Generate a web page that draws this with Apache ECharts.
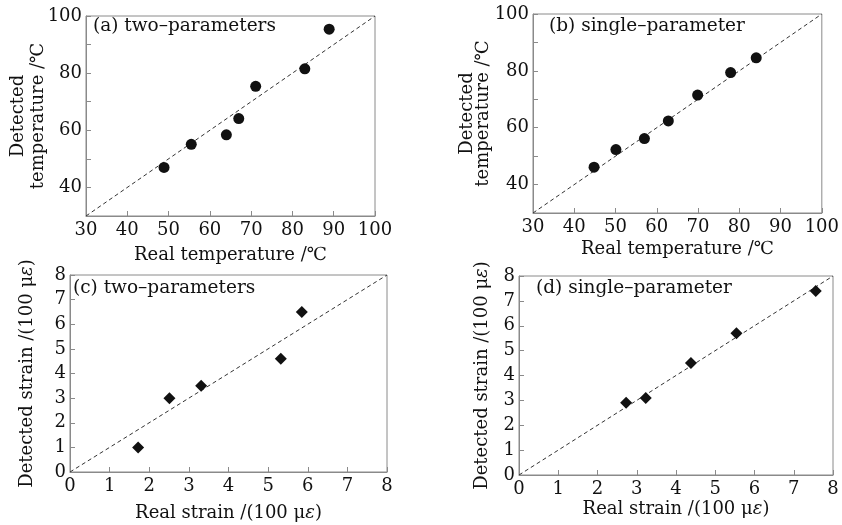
<!DOCTYPE html>
<html><head><meta charset="utf-8">
<script src="https://cdn.jsdelivr.net/npm/echarts@6/dist/echarts.min.js"></script>
<style>html,body{margin:0;padding:0;background:#fff}#c{width:842px;height:525px}</style>
</head><body><div id="c"></div>
<script>
// Panel (a) two-parameters, temperature
const tempTwoReal = [48.9, 55.5, 64.0, 67.0, 71.1, 83.0, 88.9];
const tempTwoDet  = [47.0, 55.1, 58.4, 64.1, 75.4, 81.5, 95.4];
// Panel (b) single-parameter, temperature
const tempOneReal = [44.8, 50.1, 57.0, 62.8, 69.9, 77.9, 84.1];
const tempOneDet  = [46.1, 52.3, 56.2, 62.4, 71.5, 79.4, 84.6];
// Panel (c) two-parameters, strain
const strainTwoReal = [1.72, 2.51, 3.31, 5.32, 5.85];
const strainTwoDet  = [1.0, 3.0, 3.5, 4.6, 6.5];
// Panel (d) single-parameter, strain
const strainOneReal = [2.73, 3.23, 4.38, 5.54, 7.56];
const strainOneDet  = [2.9, 3.1, 4.5, 5.7, 7.4];
// Axis ranges / labels
const tempRange = [30, 100];
const strainRange = [0, 8];
const panelLabels = ['(a) two\u2013parameters', '(b) single\u2013parameter', '(c) two\u2013parameters', '(d) single\u2013parameter'];
const xNameTemp = 'Real temperature /\u2103';
const yNameTemp = 'Detected\ntemperature /\u2103';

const FONT = '"DejaVu Serif", "Liberation Serif", serif';
const GRAY = '#8a8a8a';
const FS = 18;
const chart = echarts.init(document.getElementById('c'));

const grids = [
  {left: 86, top: 16, width: 289, height: 200},
  {left: 533, top: 14, width: 289, height: 199},
  {left: 70, top: 275, width: 317, height: 197},
  {left: 519, top: 276, width: 314, height: 199}
];
grids.forEach(g => { g.show = true; g.borderColor = GRAY; g.borderWidth = 1; g.backgroundColor = 'transparent'; });

const lblStyle = {color: '#111', fontFamily: FONT, fontSize: FS};
const rich = {
  a: {fontFamily: FONT, fontSize: FS, color: '#111'},
  i: {fontFamily: FONT, fontSize: FS, color: '#111', fontStyle: 'italic'}
};
function xAxis(i, range, interval, name, gap) {
  return {
    type: 'value', gridIndex: i, min: range[0], max: range[1], interval: interval,
    axisLine: {show: true, lineStyle: {color: GRAY, width: 1}},
    axisTick: {show: true, inside: true, length: 5, lineStyle: {color: GRAY}},
    splitLine: {show: false},
    axisLabel: Object.assign({margin: 5}, lblStyle),
    name: name, nameLocation: 'middle', nameGap: gap, nameMoveOverlap: false,
    nameTextStyle: {color: '#111', fontFamily: FONT, fontSize: FS, rich: rich}
  };
}
function yAxis(i, range, interval, name, gap, lh, fmt) {
  return {
    type: 'value', gridIndex: i, min: range[0], max: range[1], interval: interval,
    axisLine: {show: true, lineStyle: {color: GRAY, width: 1}},
    axisTick: {show: true, inside: true, length: 5, lineStyle: {color: GRAY}},
    splitLine: {show: false},
    axisLabel: Object.assign({margin: 4, formatter: fmt}, lblStyle),
    name: name, nameLocation: 'middle', nameGap: gap, nameRotate: 90, nameMoveOverlap: false,
    nameTextStyle: {color: '#111', fontFamily: FONT, fontSize: FS, lineHeight: lh, rich: rich}
  };
}
const tempYFmt = v => (v % 20 === 0 ? String(v) : '');
const strainName = (pre) => '{a|' + pre + ' /(100 \u03bc}{i|\u03b5}{a|)}';

function pairs(xs, ys) { return xs.map((x, k) => [x, ys[k]]); }

function diag(i, range) {
  return {type: 'line', xAxisIndex: i, yAxisIndex: i, data: [[range[0], range[0]], [range[1], range[1]]],
    symbol: 'none', silent: true, lineStyle: {color: '#333', width: 1, type: [4, 3]}, z: 1};
}
function scat(i, data, sym, size) {
  return {type: 'scatter', xAxisIndex: i, yAxisIndex: i, data: data, symbol: sym, symbolSize: size,
    itemStyle: {color: '#111', opacity: 1}, z: 3};
}

const option = {
  animation: false,
  backgroundColor: '#fff',
  grid: grids,
  xAxis: [
    xAxis(0, tempRange, 10, xNameTemp, 30),
    xAxis(1, tempRange, 10, xNameTemp, 27),
    xAxis(2, strainRange, 1, strainName('Real strain'), 32),
    xAxis(3, strainRange, 1, strainName('Real strain'), 25)
  ],
  yAxis: [
    yAxis(0, tempRange, 10, yNameTemp, 38, 20, tempYFmt),
    yAxis(1, tempRange, 10, yNameTemp, 42, 16, tempYFmt),
    yAxis(2, strainRange, 1, strainName('Detected strain'), 33, 20),
    yAxis(3, strainRange, 1, strainName('Detected strain'), 27, 20)
  ],
  series: [
    diag(0, tempRange), scat(0, pairs(tempTwoReal, tempTwoDet), 'circle', 11),
    diag(1, tempRange), scat(1, pairs(tempOneReal, tempOneDet), 'circle', 11),
    diag(2, strainRange), scat(2, pairs(strainTwoReal, strainTwoDet), 'diamond', 12),
    diag(3, strainRange), scat(3, pairs(strainOneReal, strainOneDet), 'diamond', 12)
  ],
  graphic: [
    {type: 'text', left: 93, top: 17, style: {text: panelLabels[0], font: '18.5px ' + FONT, fill: '#111'}},
    {type: 'text', left: 549, top: 17, style: {text: panelLabels[1], font: '18.5px ' + FONT, fill: '#111'}},
    {type: 'text', left: 73, top: 279, style: {text: panelLabels[2], font: '18.5px ' + FONT, fill: '#111'}},
    {type: 'text', left: 536, top: 279, style: {text: panelLabels[3], font: '18.5px ' + FONT, fill: '#111'}}
  ]
};
chart.setOption(option);
</script></body></html>
